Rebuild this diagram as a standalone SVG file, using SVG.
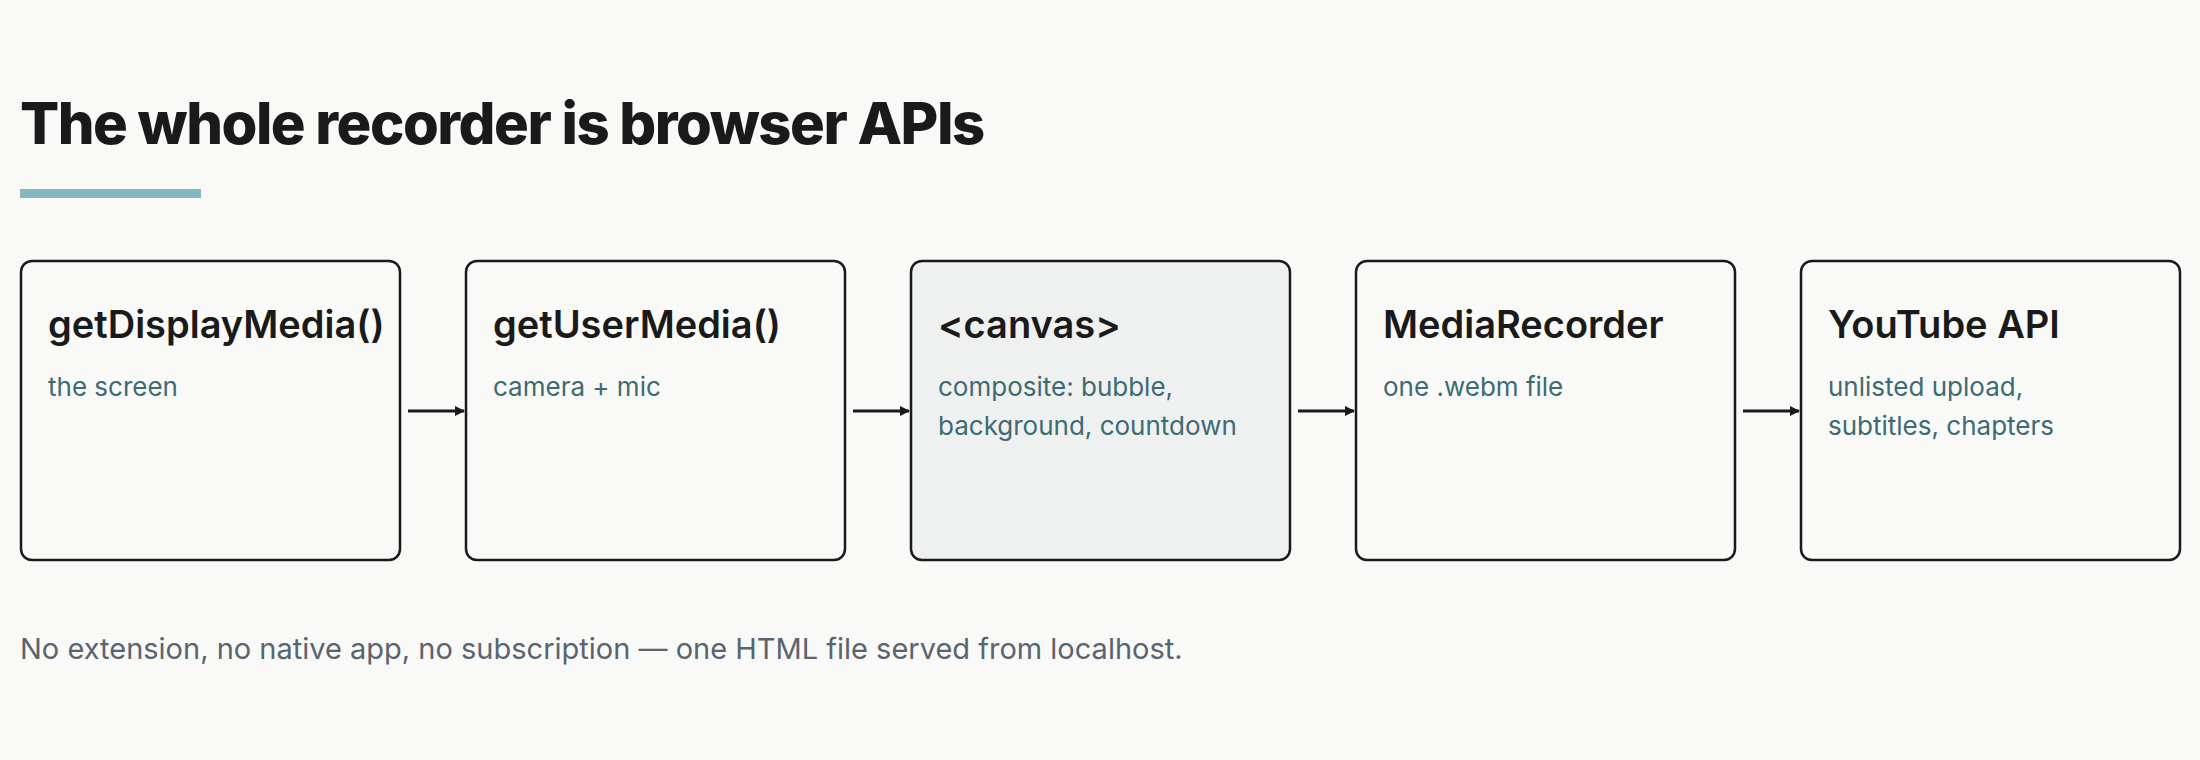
<svg xmlns="http://www.w3.org/2000/svg" width="2200" height="760" viewBox="0 0 2200 760">
<style>
.bg{fill:#f9f9f7}
.box{fill:#f9f9f7;stroke:#1a1a1a;stroke-width:2.5}
.hl{fill:#eff1f0}
.h{font-family:Inter,"Noto Sans",sans-serif;font-weight:600;font-size:38px;fill:#1a1a1a}
.s{font-family:Inter,"Noto Sans",sans-serif;font-size:26px;fill:#3d6b73}
.c{stroke:#1a1a1a;stroke-width:3;fill:none;marker-end:url(#ah)}
</style>
<defs><marker id="ah" markerWidth="10" markerHeight="10" refX="9" refY="5" orient="auto" markerUnits="userSpaceOnUse"><path d="M0,0L10,5L0,10z" fill="#1a1a1a" transform="scale(1)"/></marker></defs>
<rect class="bg" width="2200" height="760"/>
<text x="20" y="144" font-family="Inter,'Noto Sans',sans-serif" font-weight="800" font-size="58" letter-spacing="-1.5" fill="#1a1a1a">The whole recorder is browser APIs</text>
<rect x="20" y="189" width="181" height="9" fill="#84b8bf"/>
<g id="n1"><rect class="box" x="21" y="261" width="379" height="299" rx="11"/><text class="h" x="48" y="338">getDisplayMedia()</text><text class="s" x="48" y="396">the screen</text></g>
<g id="n2"><rect class="box" x="466" y="261" width="379" height="299" rx="11"/><text class="h" x="493" y="338">getUserMedia()</text><text class="s" x="493" y="396">camera + mic</text></g>
<g id="n3"><rect class="box hl" x="911" y="261" width="379" height="299" rx="11"/><text class="h" x="938" y="338">&lt;canvas&gt;</text><text class="s" x="938" y="396">composite: bubble,</text><text class="s" x="938" y="435">background, countdown</text></g>
<g id="n4"><rect class="box" x="1356" y="261" width="379" height="299" rx="11"/><text class="h" x="1383" y="338">MediaRecorder</text><text class="s" x="1383" y="396">one .webm file</text></g>
<g id="n5"><rect class="box" x="1801" y="261" width="379" height="299" rx="11"/><text class="h" x="1828" y="338">YouTube API</text><text class="s" x="1828" y="396">unlisted upload,</text><text class="s" x="1828" y="435">subtitles, chapters</text></g>
<g id="connectors">
<path class="c" d="M408,411H464"/><path class="c" d="M853,411H909"/><path class="c" d="M1298,411H1354"/><path class="c" d="M1743,411H1799"/>
</g>
<text x="20" y="659" font-family="Inter,'Noto Sans',sans-serif" font-size="29" fill="#5a6470">No extension, no native app, no subscription — one HTML file served from localhost.</text>
</svg>
